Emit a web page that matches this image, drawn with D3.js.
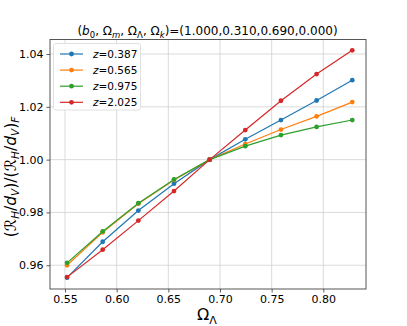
<!DOCTYPE html>
<html><head><meta charset="utf-8">
<script src="https://cdn.jsdelivr.net/npm/d3@7"></script>
<style>body{margin:0;background:#fff}svg{font-family:"DejaVu Sans",sans-serif}</style>
</head><body><svg id="c" width="407" height="326"></svg>
<script>
const omegaL = [0.552, 0.5865, 0.621, 0.6555, 0.690, 0.7245, 0.759, 0.7935, 0.828];
const seriesNames = ["z=0.387", "z=0.565", "z=0.975", "z=2.025"];
const z0387 = [0.9553, 0.9689, 0.9807, 0.9909, 1.0000, 1.0077, 1.0150, 1.0224, 1.0301];
const z0565 = [0.9600, 0.9725, 0.9833, 0.9923, 1.0000, 1.0059, 1.0114, 1.0164, 1.0218];
const z0975 = [0.9609, 0.9728, 0.9835, 0.9925, 1.0000, 1.0051, 1.0093, 1.0124, 1.0150];
const z2025 = [0.9555, 0.9659, 0.9769, 0.9881, 1.0000, 1.0112, 1.0223, 1.0324, 1.0414];
const xTicks = [0.55, 0.60, 0.65, 0.70, 0.75, 0.80];
const yTicks = [0.96, 0.98, 1.00, 1.02, 1.04];
const colors = ["#1f77b4", "#ff7f0e", "#2ca02c", "#d62728"];
const allSeries = [z0387, z0565, z0975, z2025];

const svg = d3.select("#c");
const L = 50, R = 366, T = 39.5, B = 289;
const x = d3.scaleLinear().domain([0.5355, 0.8413]).range([L, R]);
const y = d3.scaleLinear().domain([0.9510, 1.0455]).range([B, T]);

// grid
const g = svg.append("g");
g.selectAll(".gx").data(xTicks).enter().append("line")
  .attr("x1", d => x(d)).attr("x2", d => x(d)).attr("y1", T).attr("y2", B)
  .attr("stroke", "#d0d0d0").attr("stroke-width", 0.8);
g.selectAll(".gy").data(yTicks).enter().append("line")
  .attr("y1", d => y(d)).attr("y2", d => y(d)).attr("x1", L).attr("x2", R)
  .attr("stroke", "#d0d0d0").attr("stroke-width", 0.8);

// axes
const xAxis = d3.axisBottom(x).tickValues(xTicks).tickFormat(d3.format(".2f")).tickSizeOuter(0).tickSize(3.5).tickPadding(3);
const yAxis = d3.axisLeft(y).tickValues(yTicks).tickFormat(d3.format(".2f")).tickSizeOuter(0).tickSize(3.5).tickPadding(3);
const xa = svg.append("g").attr("transform", `translate(0,${B})`).call(xAxis);
const ya = svg.append("g").attr("transform", `translate(${L},0)`).call(yAxis);
[xa, ya].forEach(a => {
  a.select(".domain").remove();
  a.selectAll("text").attr("font-size", 11).attr("fill", "#000").attr("font-family", "DejaVu Sans");
  a.selectAll("line").attr("stroke", "#333").attr("stroke-width", 0.8);
});

// lines
const line = d3.line().x((d, i) => x(omegaL[i])).y(d => y(d));
allSeries.forEach((s, k) => {
  svg.append("path").datum(s).attr("d", line).attr("fill", "none")
    .attr("stroke", colors[k]).attr("stroke-width", 1.2);
  svg.selectAll(null).data(s).enter().append("circle")
    .attr("cx", (d, i) => x(omegaL[i])).attr("cy", d => y(d)).attr("r", 2.4)
    .attr("fill", colors[k]);
});

// frame
svg.append("rect").attr("x", L).attr("y", T).attr("width", R - L).attr("height", B - T)
  .attr("fill", "none").attr("stroke", "#444").attr("stroke-width", 0.9);

// legend
const lg = svg.append("g");
lg.append("rect").attr("x", 53.5).attr("y", 43.5).attr("width", 87).attr("height", 66.5)
  .attr("rx", 2.5).attr("fill", "#fff").attr("fill-opacity", 0.85).attr("stroke", "#d8d8d8").attr("stroke-width", 0.8);
seriesNames.forEach((n, k) => {
  const yy = 54 + k * 16.1;
  lg.append("line").attr("x1", 60).attr("x2", 83).attr("y1", yy).attr("y2", yy)
    .attr("stroke", colors[k]).attr("stroke-width", 1.2);
  lg.append("circle").attr("cx", 71.5).attr("cy", yy).attr("r", 2.4).attr("fill", colors[k]);
  const parts = n.split("=");
  const t = lg.append("text").attr("x", 93).attr("y", yy + 4).attr("font-size", 10.5);
  t.append("tspan").attr("font-style", "italic").text(parts[0]);
  t.append("tspan").text("=" + parts[1]);
});

// rich text helper: segments [text, isSub, italic]
function rich(el, segs, base, subSize, shift) {
  let cur = 0;
  segs.forEach(([txt, isSub, ital]) => {
    const target = isSub ? shift : 0;
    el.append("tspan").attr("dy", target - cur)
      .attr("font-size", isSub ? subSize : base)
      .attr("font-style", ital ? "italic" : "normal").text(txt);
    cur = target;
  });
}

// title
const title = svg.append("text").attr("x", 207.5).attr("y", 35).attr("text-anchor", "middle");
rich(title, [["(", 0, 0], ["b", 0, 1], ["0", 1, 0], [", Ω", 0, 0], ["m", 1, 1], [", Ω", 0, 0], ["Λ", 1, 0],
  [", Ω", 0, 0], ["k", 1, 1], [")=(1.000,0.310,0.690,0.000)", 0, 0]], 12, 8.5, 2.8);

// x label
const xl = svg.append("text").attr("x", 207).attr("y", 320).attr("text-anchor", "middle");
rich(xl, [["Ω", 0, 0], ["Λ", 1, 0]], 16, 11, 3.5);

// y label
const yl = svg.append("text").attr("transform", "translate(16,177) rotate(-90)").attr("text-anchor", "middle");
rich(yl, [["(", 0, 0], ["ℛ", 0, 1], ["H", 1, 1], ["/", 0, 0], ["d", 0, 1], ["V", 1, 1], [")/(", 0, 0],
  ["ℛ", 0, 1], ["H", 1, 1], ["/", 0, 0], ["d", 0, 1], ["V", 1, 1], [")", 0, 0], ["F", 1, 1]], 15.5, 10.5, 3);
</script></body></html>
